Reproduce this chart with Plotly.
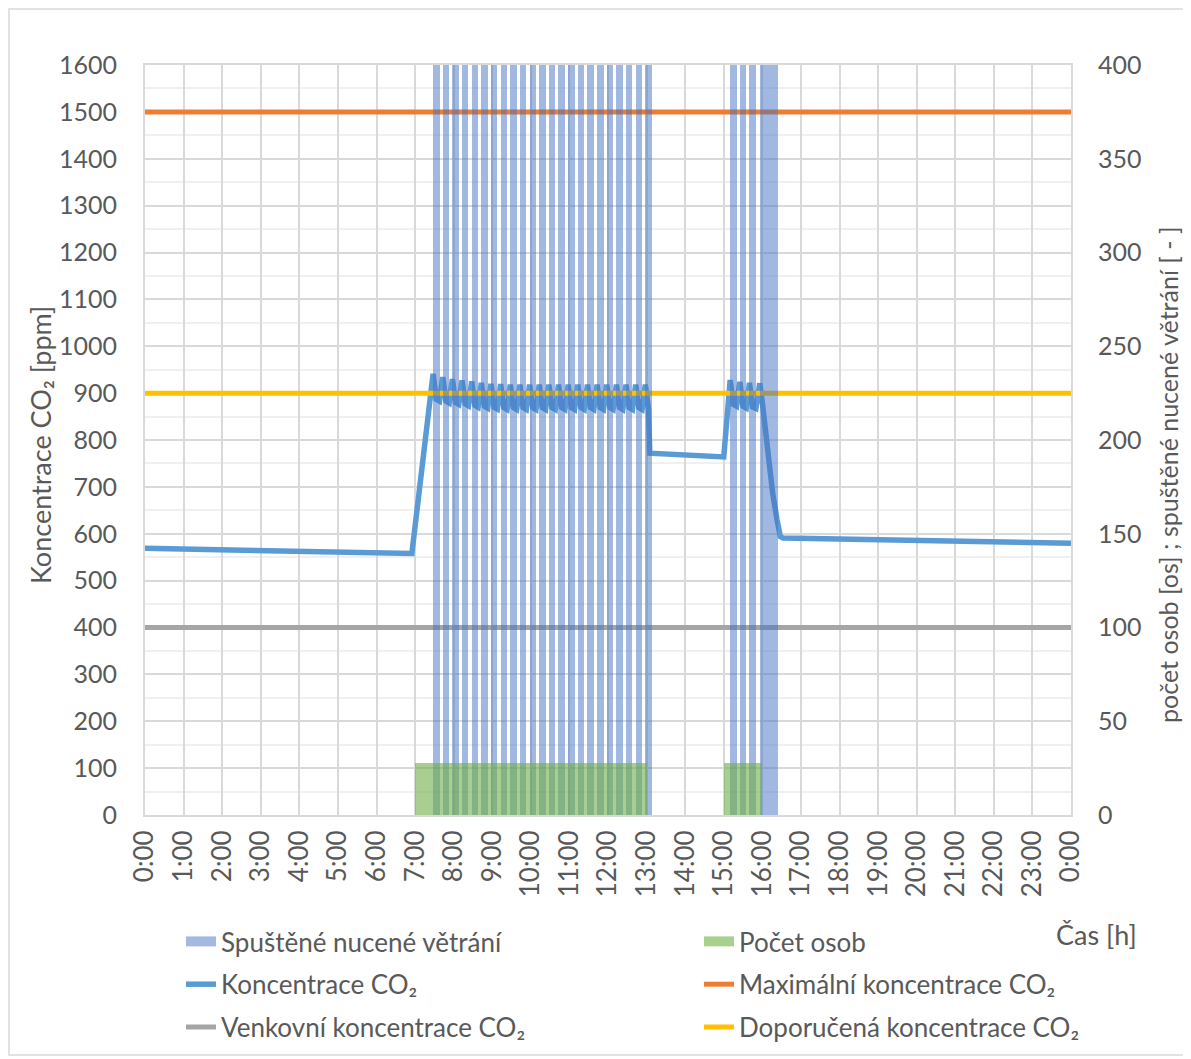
import plotly.graph_objects as go

# ---------------- data ----------------
hour_labels = ["0:00", "1:00", "2:00", "3:00", "4:00", "5:00", "6:00", "7:00", "8:00",
               "9:00", "10:00", "11:00", "12:00", "13:00", "14:00", "15:00", "16:00",
               "17:00", "18:00", "19:00", "20:00", "21:00", "22:00", "23:00", "0:00"]

# forced ventilation switched on: start time and duration [min]
vent_start = ["7:28", "7:43", "7:58", "8:13", "8:28", "8:43", "8:58", "9:13", "9:28", "9:43",
              "9:58", "10:13", "10:28", "10:43", "10:58", "11:13", "11:28", "11:43", "11:58",
              "12:13", "12:28", "12:43", "12:58",
              "15:10", "15:25", "15:40", "15:56"]
vent_minutes = [10] * 23 + [10, 10, 10, 28]
vent_value = 400  # right axis – full height

# number of persons
persons_start = ["7:00", "15:00"]
persons_end = ["13:00", "16:00"]
persons_count = [28, 28]

# CO2 concentration [ppm]
co2_time = ["0:00", "6:55",
            "7:28", "7:33", "7:38", "7:43", "7:48", "7:53", "7:58", "8:03", "8:08",
            "8:13", "8:18", "8:23", "8:28", "8:33", "8:38", "8:43", "8:48", "8:53",
            "8:58", "9:03", "9:08", "9:13", "9:18", "9:23", "9:28", "9:33", "9:38",
            "9:43", "9:48", "9:53", "9:58", "10:03", "10:08", "10:13", "10:18", "10:23",
            "10:28", "10:33", "10:38", "10:43", "10:48", "10:53", "10:58", "11:03", "11:08",
            "11:13", "11:18", "11:23", "11:28", "11:33", "11:38", "11:43", "11:48", "11:53",
            "11:58", "12:03", "12:08", "12:13", "12:18", "12:23", "12:28", "12:33", "12:38",
            "12:43", "12:48", "12:53", "12:58", "13:03", "13:05",
            "15:00", "15:10", "15:15", "15:20", "15:25", "15:30", "15:35", "15:40", "15:45",
            "15:50", "15:56", "16:00", "16:04", "16:10", "16:16", "16:23", "16:28", "16:32",
            "24:00"]
co2_ppm = [569, 558,
           941, 887, 883, 934, 883, 879, 930, 880, 876, 927, 877, 873, 925, 874, 870,
           922, 872, 868, 920, 870, 866, 919, 869, 865, 918, 869, 865, 918, 869, 865,
           918, 869, 865, 918, 869, 865, 918, 869, 865, 918, 869, 865, 918, 869, 865,
           918, 869, 865, 918, 869, 865, 918, 869, 865, 918, 869, 865, 918, 869, 865,
           918, 869, 865, 918, 869, 865, 918, 866, 772,
           764, 928, 876, 872, 924, 872, 868, 922, 870, 867, 921, 880, 828, 757, 687,
           629, 594, 591, 580]

max_co2 = 1500
recommended_co2 = 900
outdoor_co2 = 400


def hours(s):
    h, m = s.split(":")
    return int(h) + int(m) / 60.0


# ---------------- figure ----------------
FONT = "Lato"
GREY_TXT = "#595959"
GRID = "#D9D9D9"

# page has an 8 px body margin -> figure is 8 px smaller and shifted
OFF = 8
W, H = 1191 - OFF, 1059 - OFF
PL, PR, PT, PB = 145, 1071, 65, 815          # plot area in page pixels
L, T = PL - OFF, PT - OFF
R, B = W - (PR - OFF), H - (PB - OFF)
pw, ph = PR - PL, PB - PT


def xp(px):
    return (px - PL) / pw


def yp(py):
    return (PB - py) / ph


vent_x = [hours(s) + d / 120.0 for s, d in zip(vent_start, vent_minutes)]
vent_w = [d / 60.0 for d in vent_minutes]
pers_x = [(hours(a) + hours(b)) / 2 for a, b in zip(persons_start, persons_end)]
pers_w = [hours(b) - hours(a) for a, b in zip(persons_start, persons_end)]

BLUE_BAR = "rgba(68,114,196,0.50)"
GREEN_BAR = "rgba(112,173,71,0.60)"

fig = go.Figure()

fig.add_trace(go.Bar(x=vent_x, y=[vent_value] * len(vent_x), width=vent_w,
                     marker=dict(color=BLUE_BAR, line=dict(width=0)),
                     yaxis="y2", showlegend=False, hoverinfo="skip"))
fig.add_trace(go.Bar(x=pers_x, y=persons_count, width=pers_w,
                     marker=dict(color=GREEN_BAR, line=dict(width=0)),
                     yaxis="y2", showlegend=False, hoverinfo="skip"))

# legend entries for the bars (wide rectangles as in the original)
fig.add_trace(go.Scatter(x=[None], y=[None], mode="lines", name="Spuštěné nucené větrání",
                         line=dict(color="#A2B9E2", width=14),
                         legend="legend", legendgroup="a1"))
fig.add_trace(go.Scatter(x=[None], y=[None], mode="lines", name="Počet osob",
                         line=dict(color="#A9D18E", width=14),
                         legend="legend2", legendgroup="b1"))

fig.add_trace(go.Scatter(x=[hours(t) for t in co2_time], y=co2_ppm, mode="lines",
                         name="Koncentrace CO₂", line=dict(color="#5B9BD5", width=5.5),
                         legend="legend", legendgroup="a2"))
fig.add_trace(go.Scatter(x=[0, 24], y=[max_co2, max_co2], mode="lines",
                         name="Maximální koncentrace CO₂",
                         line=dict(color="#ED7D31", width=5),
                         legend="legend2", legendgroup="b2"))
fig.add_trace(go.Scatter(x=[0, 24], y=[outdoor_co2, outdoor_co2], mode="lines",
                         name="Venkovní koncentrace CO₂",
                         line=dict(color="#A5A5A5", width=5),
                         legend="legend", legendgroup="a3"))
fig.add_trace(go.Scatter(x=[0, 24], y=[recommended_co2, recommended_co2], mode="lines",
                         name="Doporučená koncentrace CO₂",
                         line=dict(color="#FFC000", width=5),
                         legend="legend2", legendgroup="b3"))

legend_common = dict(orientation="v", xanchor="left", yanchor="top",
                     font=dict(size=26, color=GREY_TXT, family=FONT),
                     traceorder="grouped", tracegroupgap=6,
                     bgcolor="rgba(0,0,0,0)")

fig.update_layout(
    width=W, height=H,
    margin=dict(l=L, r=R, t=T, b=B, autoexpand=False),
    paper_bgcolor="white", plot_bgcolor="white",
    font=dict(family=FONT, color=GREY_TXT, size=24),
    barmode="overlay", bargap=0,
    showlegend=True,
    legend=dict(x=xp(181), y=yp(918), **legend_common),
    legend2=dict(x=xp(699), y=yp(918), **legend_common),
    xaxis=dict(range=[0, 24], tickmode="array", tickvals=list(range(25)),
               ticktext=hour_labels, tickangle=-90,
               showgrid=True, gridcolor=GRID, gridwidth=2,
               showline=True, linecolor=GRID, linewidth=2, mirror=True,
               ticks="", ticklabelstandoff=3, zeroline=False, automargin=False,
               tickfont=dict(size=26, color=GREY_TXT)),
    yaxis=dict(range=[0, 1600], dtick=100, tick0=0,
               showgrid=True, gridcolor=GRID, gridwidth=2,
               minor=dict(dtick=50, showgrid=True, gridcolor="#F0F0F0", gridwidth=1.5),
               showline=True, linecolor=GRID, linewidth=2, mirror=True,
               ticks="", zeroline=False, ticklabelstandoff=21, automargin=False,
               tickfont=dict(size=25, color=GREY_TXT)),
    yaxis2=dict(range=[0, 400], dtick=50, tick0=0, overlaying="y", side="right",
                showgrid=False, zeroline=False, ticks="", ticklabelstandoff=26,
                automargin=False, tickfont=dict(size=25, color=GREY_TXT)),
)

# axis titles placed as in the original
fig.add_annotation(text="Koncentrace CO₂ [ppm]", xref="paper", yref="paper",
                   x=xp(41), y=yp(445), textangle=-90,
                   xanchor="center", yanchor="middle", showarrow=False,
                   font=dict(size=27, color=GREY_TXT, family=FONT))
fig.add_annotation(text="počet osob [os] ; spuštěné nucené větrání [ - ]",
                   xref="paper", yref="paper",
                   x=xp(1168), y=yp(475), textangle=-90,
                   xanchor="center", yanchor="middle", showarrow=False,
                   font=dict(size=25, color=GREY_TXT, family=FONT))
fig.add_annotation(text="Čas [h]", xref="paper", yref="paper",
                   x=xp(1139), y=yp(934), xanchor="right", yanchor="middle",
                   showarrow=False, font=dict(size=27, color=GREY_TXT, family=FONT))

# outer chart frame
fig.add_shape(type="rect", xref="paper", yref="paper",
              x0=xp(9), x1=xp(1186), y0=yp(1055), y1=yp(9),
              line=dict(color="#D9D9D9", width=1.5), fillcolor="rgba(0,0,0,0)", layer="below")

fig.write_html("out.html")
